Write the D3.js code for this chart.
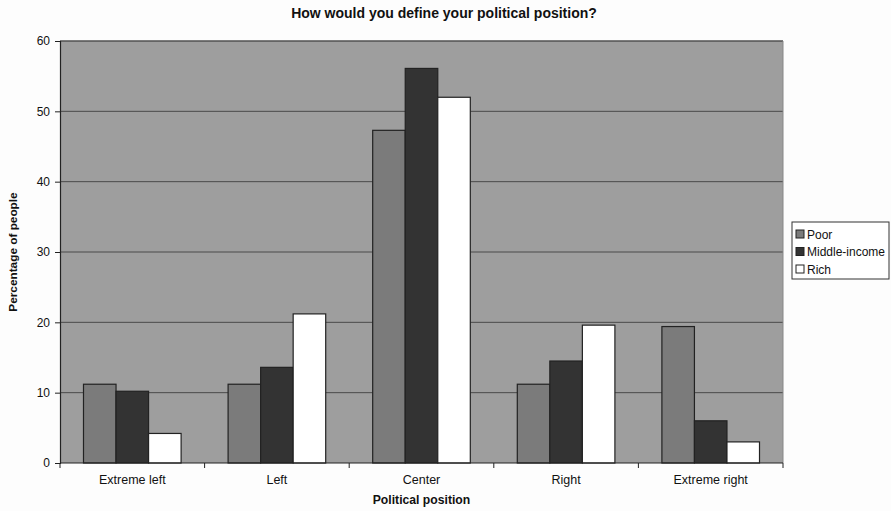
<!DOCTYPE html>
<html>
<head>
<meta charset="utf-8">
<script src="https://cdn.jsdelivr.net/npm/d3@7"></script>
<style>
  html, body { margin: 0; padding: 0; background: #fdfdfd; }
  svg { display: block; font-family: "Liberation Sans", Arial, sans-serif; }
</style>
</head>
<body>
<svg id="chart" width="891" height="511"></svg>
<script>
// Survey answers: share of each income group by political position (%)
const categories = ["Extreme left", "Left", "Center", "Right", "Extreme right"];
const seriesNames = ["Poor", "Middle-income", "Rich"];
const poor = [11.2, 11.2, 47.3, 11.2, 19.4];
const middleIncome = [10.2, 13.6, 56.1, 14.5, 6.0];
const rich = [4.2, 21.2, 52.0, 19.6, 3.0];
const yTicks = [0, 10, 20, 30, 40, 50, 60];

const seriesValues = [poor, middleIncome, rich];
const colors = ["#7b7b7b", "#333333", "#ffffff"];

const svg = d3.select("#chart");
const margin = { left: 60, top: 41, right: 108, bottom: 48 };
const W = 891, H = 511;
const plotW = W - margin.left - margin.right;
const plotH = H - margin.top - margin.bottom;

const x = d3.scaleBand().domain(categories).range([0, plotW]).paddingInner(0.325).paddingOuter(0.1625);
const xs = d3.scaleBand().domain(seriesNames).range([0, x.bandwidth()]);
const y = d3.scaleLinear().domain([0, 60]).range([plotH, 0]);

const g = svg.append("g").attr("transform", `translate(${margin.left},${margin.top})`);

// plot background
g.append("rect").attr("width", plotW).attr("height", plotH).attr("fill", "#9e9e9e");

// gridlines
g.selectAll(".grid").data(yTicks.filter(t => t > 0)).join("line")
  .attr("x1", 0).attr("x2", plotW)
  .attr("y1", d => y(d)).attr("y2", d => y(d))
  .attr("stroke", "#4a4a4a").attr("stroke-width", 1);

// bars
categories.forEach((c, i) => {
  seriesNames.forEach((s, j) => {
    const v = seriesValues[j][i];
    g.append("rect")
      .attr("x", x(c) + xs(s))
      .attr("y", y(v))
      .attr("width", xs.bandwidth())
      .attr("height", y(0) - y(v))
      .attr("fill", colors[j])
      .attr("stroke", "#222")
      .attr("stroke-width", 1.2);
  });
});

// plot frame
g.append("line").attr("x1", 0).attr("x2", plotW).attr("y1", 0).attr("y2", 0).attr("stroke", "#555");
g.append("line").attr("x1", plotW).attr("x2", plotW).attr("y1", 0).attr("y2", plotH).attr("stroke", "#888");

// y axis
const yAxis = d3.axisLeft(y).tickValues(yTicks).tickSize(5).tickPadding(5);
const ya = g.append("g").call(yAxis);
ya.select(".domain").attr("stroke", "#222").attr("stroke-width", 1.2);
ya.selectAll(".tick line").attr("stroke", "#222");
ya.selectAll("text").attr("font-size", 12).attr("fill", "#111").style("font-family", "Liberation Sans, Arial, sans-serif");

// x axis: ticks between categories
const xa = g.append("g").attr("transform", `translate(0,${plotH})`);
xa.append("line").attr("x1", 0).attr("x2", plotW).attr("stroke", "#222").attr("stroke-width", 1.2);
const step = x.step();
d3.range(categories.length + 1).forEach(i => {
  const px = i === 0 ? 0 : (i === categories.length ? plotW : x(categories[i]) - step * x.paddingInner() / 2);
  xa.append("line").attr("x1", px).attr("x2", px).attr("y1", 0).attr("y2", 5).attr("stroke", "#222");
});
xa.selectAll(".cat").data(categories).join("text")
  .attr("x", d => x(d) + x.bandwidth() / 2)
  .attr("y", 21)
  .attr("text-anchor", "middle")
  .attr("font-size", 12.5)
  .attr("fill", "#111")
  .text(d => d);

// titles
svg.append("text").attr("x", 444).attr("y", 18).attr("text-anchor", "middle")
  .attr("font-size", 14).attr("font-weight", "bold").attr("fill", "#111")
  .text("How would you define your political position?");
svg.append("text").attr("x", margin.left + plotW / 2).attr("y", 504).attr("text-anchor", "middle")
  .attr("font-size", 12.2).attr("font-weight", "bold").attr("fill", "#111")
  .text("Political position");
svg.append("text").attr("transform", `translate(17,${margin.top + plotH / 2}) rotate(-90)`)
  .attr("text-anchor", "middle")
  .attr("font-size", 11.8).attr("font-weight", "bold").attr("fill", "#111")
  .text("Percentage of people");

// legend
const lg = svg.append("g").attr("transform", "translate(792,222)");
lg.append("rect").attr("width", 97).attr("height", 57).attr("fill", "#fff").attr("stroke", "#333");
seriesNames.forEach((s, j) => {
  const row = lg.append("g").attr("transform", `translate(4,${8 + j * 17.5})`);
  row.append("rect").attr("width", 8).attr("height", 8).attr("fill", colors[j]).attr("stroke", "#222");
  row.append("text").attr("x", 11).attr("y", 8.5).attr("font-size", 12).attr("fill", "#111").text(s);
});
</script>
</body>
</html>
